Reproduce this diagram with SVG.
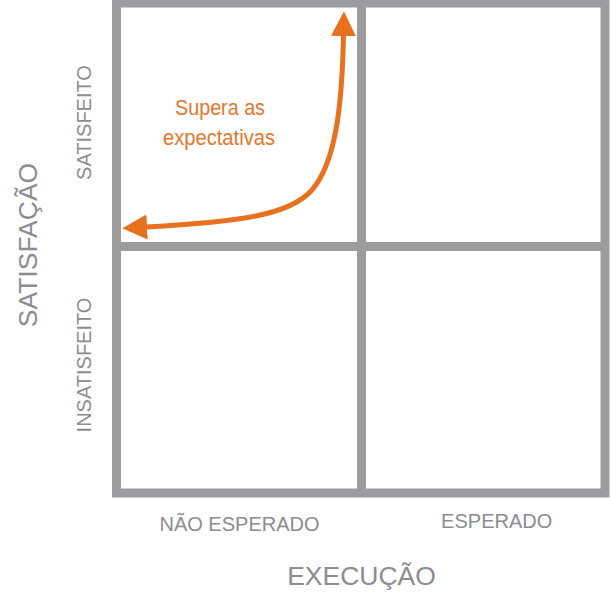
<svg xmlns="http://www.w3.org/2000/svg" width="610" height="599" viewBox="0 0 610 599">
<style>
.grid{fill:none;stroke:#9c9b9e;stroke-width:9}
.lbl{font-family:"Liberation Sans",Arial,sans-serif;fill:#8d8c8f;text-anchor:middle}
.s20{font-size:20px}
.s26{font-size:26.5px}
.orange{font-family:"Liberation Sans",Arial,sans-serif;font-size:21.5px;fill:#e6762c;text-anchor:middle}
.curve{fill:none;stroke:#e8711e;stroke-width:5}
</style>
<defs>
<marker id="head" markerUnits="userSpaceOnUse" markerWidth="26" markerHeight="26" refX="1" refY="11.5" orient="auto-start-reverse" viewBox="0 0 24 23">
<path d="M0,0 L23,11.5 L0,23 z" fill="#e8711e"/>
</marker>
</defs>
<rect width="610" height="599" fill="#ffffff"/>
<g id="matrix">
<rect class="grid" x="116.5" y="3" width="488.5" height="490"/>
<line class="grid" x1="361.5" y1="0" x2="361.5" y2="493"/>
<line class="grid" x1="116.5" y1="246.5" x2="605" y2="246.5"/>
</g>
<g id="labels">
<text class="lbl s20" transform="translate(91,122.5) rotate(-90)">SATISFEITO</text>
<text class="lbl s20" transform="translate(91,365) rotate(-90)">INSATISFEITO</text>
<text class="lbl s26" transform="translate(37,245) rotate(-90)">SATISFAÇÃO</text>
<text class="lbl s20" x="239.5" y="531">NÃO ESPERADO</text>
<text class="lbl s20" x="496.7" y="528">ESPERADO</text>
<text class="lbl s26" x="361.5" y="585">EXECUÇÃO</text>
</g>
<g id="connectors">
<path class="curve" d="M146,227 C240,222 290,215 312,190 C335,163 342,110 343.5,35" marker-start="url(#head)" marker-end="url(#head)"/>
</g>
<g id="note">
<text class="orange" x="220" y="115" textLength="90" lengthAdjust="spacingAndGlyphs">Supera as</text>
<text class="orange" x="219" y="145" textLength="112" lengthAdjust="spacingAndGlyphs">expectativas</text>
</g>
</svg>
